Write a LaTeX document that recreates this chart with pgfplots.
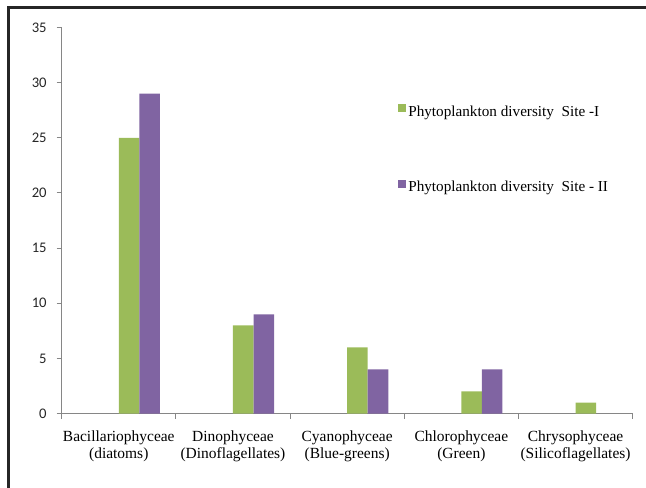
\documentclass[border=0pt]{standalone}
\usepackage{fontspec}
\setmainfont{Liberation Serif}
\newfontfamily\calib{Carlito}
\usepackage{pgfplots}
\pgfplotsset{compat=1.18}
\definecolor{sgreen}{HTML}{9BBB59}
\definecolor{spurple}{HTML}{8064A2}
\definecolor{axgray}{HTML}{868686}
\begin{document}
\begin{tikzpicture}[x=0.75pt,y=0.75pt]
\useasboundingbox (0,0) rectangle (646,488);
\draw[line width=2.25pt, black!85] (8.5,0) -- (8.5,480.5) -- (646,480.5);
\begin{axis}[
  at={(54,67.5)}, anchor=south west,
  width=428.25pt, height=289.5pt, scale only axis,
  xmin=-0.5, xmax=4.5, ymin=0, ymax=35,
  ytick={0,5,...,35},
  xtick={0,1,2,3,4},
  xticklabels={{Bacillariophyceae\\(diatoms)},{Dinophyceae\\(Dinoflagellates)},{Cyanophyceae\\(Blue-greens)},{Chlorophyceae\\(Green)},{Chrysophyceae\\(Silicoflagellates)}},
  minor xtick={-0.5,0.5,1.5,2.5,3.5,4.5},
  axis x line=bottom, axis y line=left,
  axis line style={-, axgray, line width=0.75pt},
  major x tick style={draw=none},
  minor x tick style={axgray, line width=0.75pt},
  y tick style={axgray, line width=0.75pt},
  tick align=outside,
  major tick length=3.75pt, minor tick length=3.75pt,
  /pgf/number format/assume math mode=true,
  yticklabel style={font=\calib\fontsize{11}{12}\selectfont, text=black!85, xshift=-4pt},
  xticklabel style={align=center, font=\fontsize{11.6}{12.75}\selectfont, yshift=-6pt},
  ybar, bar width=0.18,
  legend style={draw=none, fill=none, at={(0.588,0.804)}, anchor=north west,
    font=\fontsize{11.4}{13}\selectfont, row sep=43pt, inner sep=0pt,
    /tikz/every even column/.append style={column sep=0pt}},
  legend cell align=left,
  legend image code/.code={\fill[#1] (0pt,0pt) rectangle (6pt,6pt);},
]
\addplot[fill=sgreen, draw=none, bar shift=0.09] coordinates {(0,25) (1,8) (2,6) (3,2) (4,1)};
\addplot[fill=spurple, draw=none, bar shift=0.27] coordinates {(0,29) (1,9) (2,4) (3,4)};
\legend{Phytoplankton diversity\ \ Site -I, Phytoplankton diversity\ \ Site - II}
\end{axis}
\end{tikzpicture}
\end{document}
